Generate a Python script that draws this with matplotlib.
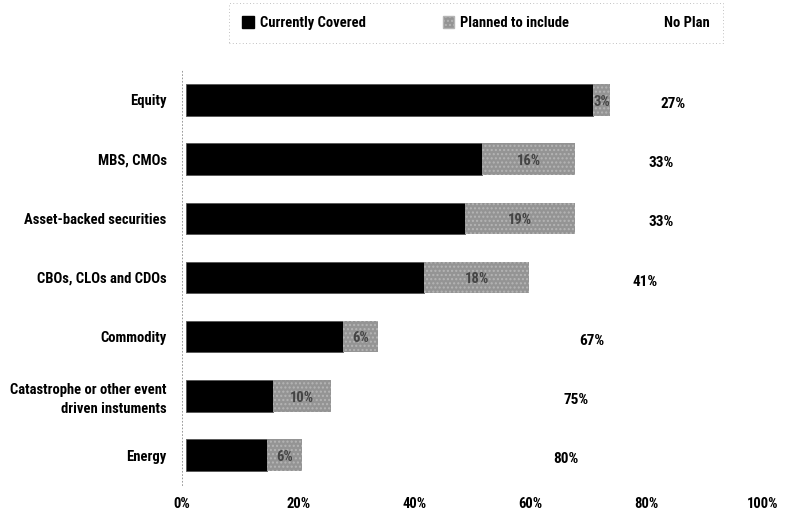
import matplotlib
matplotlib.use("Agg")
import matplotlib.pyplot as plt
from matplotlib.patches import Patch
from matplotlib import font_manager
import numpy as np

categories = ["Equity", "MBS, CMOs", "Asset-backed securities", "CBOs, CLOs and CDOs",
              "Commodity", "Catastrophe or other event\ndriven instuments", "Energy"]
covered = [70, 51, 48, 41, 27, 15, 14]
planned = [3, 16, 19, 18, 6, 10, 6]
no_plan = [27, 33, 33, 41, 67, 75, 80]
xticks = [0, 20, 40, 60, 80, 100]
xticklabels = ["0%", "20%", "40%", "60%", "80%", "100%"]

names = sorted({f.name for f in font_manager.fontManager.ttflist})
cands = [n for n in names if ('Condensed' in n or 'Narrow' in n)]
pref = ['Roboto Condensed', 'Open Sans Condensed', 'Liberation Sans Narrow',
        'DejaVu Sans Condensed', 'Noto Sans Condensed']
fam = None
for p_ in pref:
    if p_ in names:
        fam = p_
        break
if fam is None and cands:
    fam = cands[0]
stretch = 'normal'
if fam is None:
    fam = 'DejaVu Sans'
    stretch = 'condensed'
plt.rcParams['font.family'] = [fam, 'DejaVu Sans']
plt.rcParams['font.stretch'] = stretch
plt.rcParams['font.weight'] = 'bold'

FS = 10.5

fig = plt.figure(figsize=(7.93, 5.15), dpi=100)
ax = fig.add_axes([182/793, 30.4/515, (763-182)/793, 414.2/515])

y = np.arange(len(categories))
h = 0.53
c = np.array(covered); p = np.array(planned); n = np.array(no_plan)
ax.barh(y, c, height=h, color='black', edgecolor='#555555', linewidth=0.6, left=0.7)
ax.barh(y, p, height=h, left=c + 0.7, color='#949494', edgecolor='#b5b5b5',
        hatch='....', linewidth=0)
ax.barh(y, n, height=h, left=c + p + 0.7, color='white', edgecolor='none')

for i in range(len(categories)):
    ax.text(c[i] + 0.7 + p[i] / 2, y[i] + 0.03, f"{planned[i]}%", ha='center', va='center',
            fontsize=FS, fontweight='bold', color='#444444')
    xpos = 100 - (6 + 0.35 * no_plan[i])
    ax.text(xpos, y[i] + 0.07, f"{no_plan[i]}%", ha='center', va='center',
            fontsize=FS + 0.5, fontweight='bold', color='black')

ax.set_xlim(0, 100)
ax.set_ylim(len(categories) - 0.5, -0.5)
ax.set_yticks(y)
ax.set_yticklabels(categories, fontsize=FS, fontweight='bold')
for t in ax.get_yticklabels():
    t.set_horizontalalignment('right')
    t.set_multialignment('right')
    t.set_linespacing(1.45)
ax.set_xticks(xticks)
ax.set_xticklabels(xticklabels, fontsize=FS, fontweight='bold')
ax.tick_params(length=0, pad=11)
ax.tick_params(axis='x', pad=9)
for s in ['top', 'right', 'bottom']:
    ax.spines[s].set_visible(False)
ax.spines['left'].set_linestyle((0, (1, 3)))
ax.spines['left'].set_color('#888888')
ax.spines['left'].set_linewidth(0.6)

handles = [Patch(facecolor='black', edgecolor='black'),
           Patch(facecolor='#949494', edgecolor='#b5b5b5', hatch='....'),
           Patch(facecolor='white', edgecolor='white')]
leg = fig.legend(handles, ["Currently Covered", "Planned to include", "No Plan"],
                 loc='center', bbox_to_anchor=(476/793, 1 - 23/515), ncol=3,
                 prop={'size': FS, 'weight': 'bold'}, frameon=True, fancybox=False,
                 handlelength=0.8, handleheight=0.8, handletextpad=0.4,
                 columnspacing=5.3, borderpad=0.9)
fr = leg.get_frame()
fr.set_edgecolor('#999999')
fr.set_linestyle((0, (1, 3)))
fr.set_linewidth(0.6)

fig.savefig("out.png", dpi=100)
